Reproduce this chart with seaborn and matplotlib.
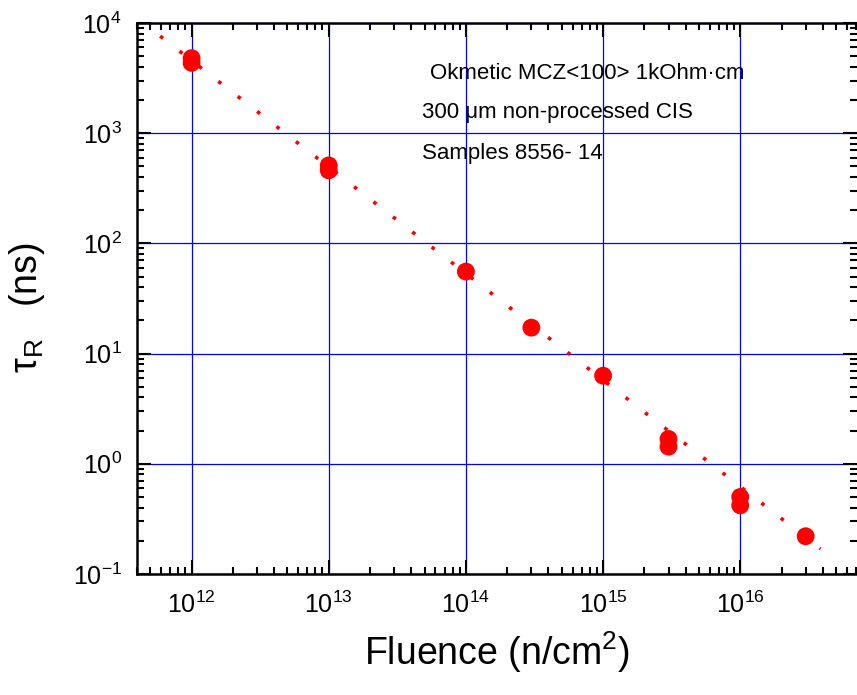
import numpy as np
import pandas as pd
import matplotlib
matplotlib.use("Agg")
from matplotlib import pyplot as plt
import seaborn as sns

# measured recombination lifetimes
fluence = [1e12, 1e12, 1e13, 1e13, 1e14, 3e14, 1e15, 3e15, 3e15, 1e16, 1e16, 3e16]
tau = [4.8e3, 4.35e3, 510, 460, 55.5, 17.2, 6.3, 1.68, 1.43, 0.50, 0.42, 0.22]

# dotted guide line (end points)
fit_fluence = [5.9e11, 3.85e16]
fit_tau = [7.6e3, 0.169]

data = pd.DataFrame({"fluence": fluence, "tau": tau})
fit = pd.DataFrame({"fluence": fit_fluence, "tau": fit_tau})

sns.set_style("ticks")
plt.rcParams["font.family"] = ["Liberation Sans", "DejaVu Sans"]
plt.rcParams["mathtext.fontset"] = "custom"
plt.rcParams["mathtext.rm"] = "Liberation Sans"
plt.rcParams["mathtext.it"] = "Liberation Sans:italic"
plt.rcParams["mathtext.bf"] = "Liberation Sans:bold"
plt.rcParams["axes.unicode_minus"] = False
for k in ["text.color", "axes.labelcolor", "xtick.color", "ytick.color", "axes.edgecolor"]:
    plt.rcParams[k] = "black"

fig = plt.figure(figsize=(8.57, 6.95), dpi=100)
ax = fig.add_axes([137 / 857, 1 - 574 / 695, 720 / 857, 551 / 695])

ax.set_xscale("log")
ax.set_yscale("log")

sns.lineplot(data=fit, x="fluence", y="tau", ax=ax, color="red",
             linewidth=2.6, linestyle=(0, (1, 5.8)), zorder=3)
sns.scatterplot(data=data, x="fluence", y="tau", ax=ax, color="red",
                s=165, edgecolor="none", zorder=4)

ax.set_xlim(4e11, 7.1e16)
ax.set_ylim(0.1, 1e4)

ax.grid(True, which="major", color="blue", linewidth=0.9)
ax.set_axisbelow(True)

ax.tick_params(which="both", direction="in", top=True, right=True, width=1.5)
ax.tick_params(which="major", length=10, labelsize=18, pad=13)
ax.tick_params(which="minor", length=5)
ax.tick_params(axis="y", which="major", pad=11)
for s in ax.spines.values():
    s.set_linewidth(1.8)
ax.spines["right"].set_visible(False)

ax.set_xlabel("Fluence (n/cm$^2$)", fontsize=27, labelpad=8)
ax.set_ylabel("τ$_\\mathregular{R}$   (ns)", fontsize=27)
ax.yaxis.set_label_coords(-0.125, 0.483)

ax.text(0.407, 0.909, "Okmetic MCZ<100> 1kOhm·cm", transform=ax.transAxes,
        fontsize=16, va="center", ha="left")
ax.text(0.396, 0.837, "300 μm non-processed CIS", transform=ax.transAxes,
        fontsize=16, va="center", ha="left")
ax.text(0.396, 0.764, "Samples 8556- 14", transform=ax.transAxes,
        fontsize=16, va="center", ha="left")

fig.savefig("out.png", dpi=100)
